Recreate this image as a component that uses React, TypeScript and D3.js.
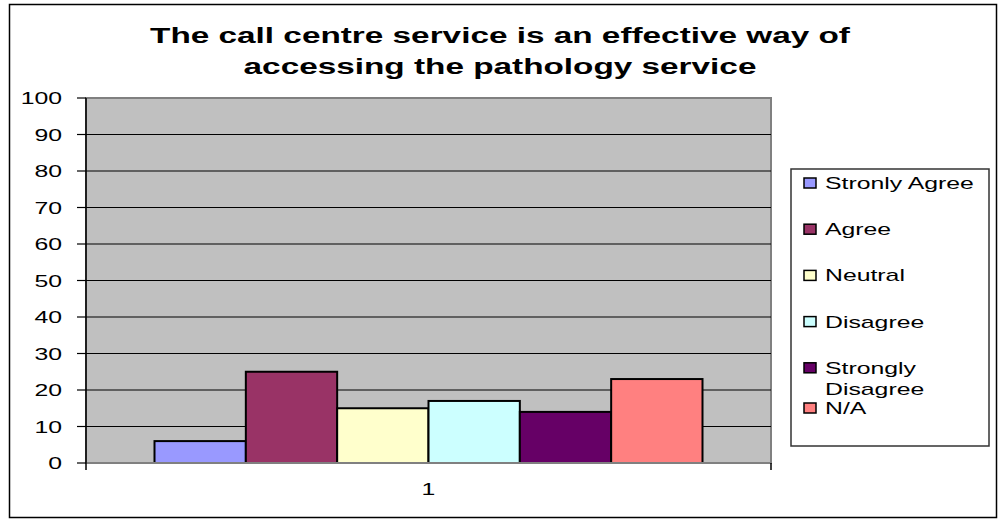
import React from "react";
import * as d3 from "d3";

const categories = ["1"];
const seriesNames = ["Stronly Agree", "Agree", "Neutral", "Disagree", "Strongly Disagree", "N/A"];
const seriesValues = [6, 25, 15, 17, 14, 23];
const seriesColors = ["#9999FF", "#993366", "#FFFFCC", "#CCFFFF", "#660066", "#FF8080"];
const yTicks = [0, 10, 20, 30, 40, 50, 60, 70, 80, 90, 100];
const titleLines = ["The call centre service is an effective way of", "accessing the pathology service"];

const W = 998;
const H = 519;
const SX = 1.55;
const FONT = "'Liberation Sans', Arial, Helvetica, sans-serif";

const plot = { left: 86, right: 771, top: 98, bottom: 463 };
const legend = { x: 791, y: 169, w: 198, h: 277 };

function SText(props: { x: number; y: number; size: number; anchor?: string; bold?: boolean; children: React.ReactNode }) {
  const { x, y, size, anchor = "start", bold = false, children } = props;
  return (
    <text
      transform={`translate(${x},${y}) scale(${SX},1)`}
      fontFamily={FONT}
      fontSize={size}
      fontWeight={bold ? "bold" : "normal"}
      textAnchor={anchor}
      fill="#000"
    >
      {children}
    </text>
  );
}

export default function App() {
  const y = d3.scaleLinear().domain([0, 100]).range([plot.bottom, plot.top]);
  const x0 = d3
    .scaleBand<string>()
    .domain(categories)
    .range([plot.left, plot.right])
    .paddingInner(0.2)
    .paddingOuter(0.1);
  const x1 = d3.scaleBand<string>().domain(seriesNames).range([0, x0.bandwidth()]);

  const legendStep = 46.2;
  let legendY = legend.y + 14;
  const legendItems = seriesNames.map((name, i) => {
    const lines = name.length > 14 ? name.split(" ") : [name];
    const item = { name, lines, color: seriesColors[i], cy: legendY };
    legendY += i === seriesNames.length - 2 ? legendStep - 6 : legendStep;
    return item;
  });

  return (
    <svg width={W} height={H} style={{ position: "absolute", left: 0, top: 0, background: "#fff" }}>
      <rect x={9.5} y={4.5} width={987} height={513} fill="#fff" stroke="#000" strokeWidth={1.5} />

      {titleLines.map((t, i) => (
        <SText key={t} x={500} y={43 + i * 30.5} size={21.5} anchor="middle" bold>
          {t}
        </SText>
      ))}

      {/* plot area */}
      <rect
        x={plot.left}
        y={plot.top}
        width={plot.right - plot.left}
        height={plot.bottom - plot.top}
        fill="#C0C0C0"
        stroke="#808080"
        strokeWidth={2}
      />
      {yTicks
        .filter((t) => t > 0 && t < 100)
        .map((t) => (
          <line key={t} x1={plot.left} x2={plot.right} y1={y(t)} y2={y(t)} stroke="#000" strokeWidth={1} />
        ))}

      {/* bars */}
      {categories.map((c) => (
        <g key={c} transform={`translate(${x0(c)},0)`}>
          {seriesNames.map((s, i) => (
            <rect
              key={s}
              x={x1(s)}
              y={y(seriesValues[i])}
              width={x1.bandwidth()}
              height={y(0) - y(seriesValues[i])}
              fill={seriesColors[i]}
              stroke="#000"
              strokeWidth={2}
            />
          ))}
        </g>
      ))}

      {/* axes */}
      <line x1={plot.left} x2={plot.right} y1={plot.bottom} y2={plot.bottom} stroke="#808080" strokeWidth={2} />
      <line x1={plot.left} x2={plot.left} y1={plot.top} y2={plot.bottom + 7} stroke="#000" strokeWidth={1.5} />
      <line x1={plot.right} x2={plot.right} y1={plot.bottom} y2={plot.bottom + 7} stroke="#000" strokeWidth={1.5} />
      {yTicks.map((t) => (
        <g key={t}>
          <line x1={plot.left - 9} x2={plot.left} y1={y(t)} y2={y(t)} stroke="#000" strokeWidth={1.2} />
          <SText x={62} y={y(t) + 6} size={16} anchor="end">
            {t}
          </SText>
        </g>
      ))}
      {categories.map((c) => (
        <SText key={c} x={(x0(c) as number) + x0.bandwidth() / 2} y={495} size={16} anchor="middle">
          {c}
        </SText>
      ))}

      {/* legend */}
      <rect x={legend.x} y={legend.y} width={legend.w} height={legend.h} fill="#fff" stroke="#333" strokeWidth={1.5} />
      {legendItems.map((it) => (
        <g key={it.name}>
          <rect x={804} y={it.cy - 5} width={12} height={10} fill={it.color} stroke="#000" strokeWidth={1.5} />
          {it.lines.map((ln, j) => (
            <SText key={ln} x={825} y={it.cy + 6 + j * 21} size={16}>
              {ln}
            </SText>
          ))}
        </g>
      ))}
    </svg>
  );
}
